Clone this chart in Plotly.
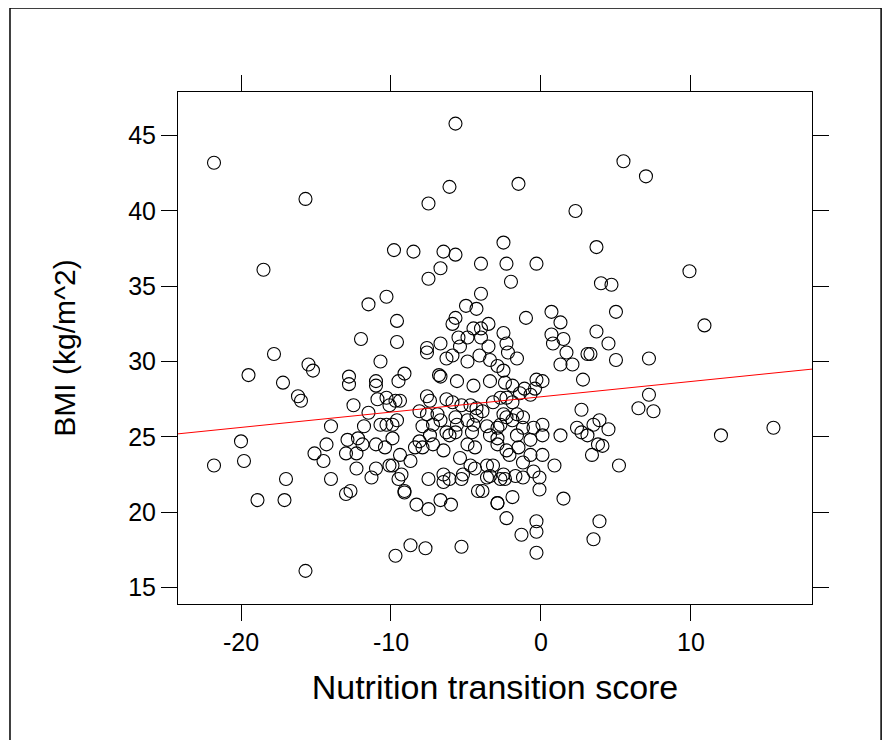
import plotly.graph_objects as go

# Nutrition transition score (x) and BMI (y)
nts = [
    -21.8, -15.7, -5.7, -6.1, -7.5, -1.5, 2.3, 5.5, 7.0, 9.9,
    10.9, -18.5, -9.8, -8.5, -6.5, -5.7, -2.5, 3.7, -6.7, -7.5,
    -4.0, -2.3, -0.3, -2.0, 4.0, 4.7, -4.0, -5.0, -4.3, -10.3,
    -11.5, -9.6, -5.7, -5.9, -1.0, 0.7, 1.3, -3.5, -4.5, -4.0,
    -2.5, -5.5, -4.9, -4.0, 0.7, 1.5, 3.7, 5.0, 4.5, -9.6,
    -6.7, -2.3, 0.8, -3.5, -5.4, -7.6, -12.0, -17.8, -19.5, -15.5,
    -15.2, -17.2, -10.7, -12.8, -12.8, -11.0, -11.0, -16.2, -16.0, -12.5,
    -10.9, -10.3, -11.5, -14.0, -11.8, -10.7, -10.3, -20.0, -14.3, -12.9,
    -12.2, -11.9, -11.0, -10.4, -15.1, -14.5, -13.0, -12.3, -19.8, -21.8,
    -12.3, -11.0, -10.1, -17.0, -14.0, -11.3, -18.9, -17.1, -13.0, -12.7,
    -15.7, -9.7, -9.5, -7.5, -6.5, -6.1, -5.3, -3.6, -2.7, -2.4,
    -1.7, -1.2, -0.1, -9.1, -9.1, -4.2, -3.9, -2.9, -2.9, -1.9,
    -0.1, 1.5, -8.3, -7.5, -6.7, -6.0, -2.3, -0.3, -0.3, -1.3,
    3.9, 3.5, -8.7, -7.7, -5.3, -0.3, 5.0, 7.2, 7.2, 6.5,
    7.5, 4.5, 3.9, 4.1, 12.0, 15.5, 5.2,
    -7.6, -6.3, -5.9, -4.9, -4.1, -3.4, -2.9, -2.5, -2.2, -1.6,
    -0.3, 1.7, 1.3, 2.1, 3.1, 3.3, 2.8, -9.1, -9.5, -6.8,
    -6.7, -5.6, -4.5, -3.4, -2.4, -1.9, -1.1, -0.4, 0.1, -1.4,
    -0.7, -7.6, -7.4, -9.7, -9.4, -10.1, -6.3, -5.9, -5.3, -4.3,
    -4.7, -3.9, -3.2, -2.7, -2.3, -1.9, -8.1, -7.6, -6.9, -6.7,
    -5.7, -4.3, -2.5, -2.3, -1.6, -1.2, -2.7, -1.9, -2.9, -3.6,
    -4.5, -4.9, -5.6, -7.2, -7.9, -9.6, -9.9, 2.7, 3.5, 2.7,
    3.1, 1.3, 0.1, -0.5, -1.2, -6.3, -5.7, -6.1, -4.6, -3.4,
    -2.9, -9.9, -7.4, -8.1, -1.6, -0.7, 0.1, 2.4, 3.8, 3.4,
    -8.4, -7.9, -7.2, -6.5, -4.9, -4.4, -2.9, -2.3, -1.5, -0.7,
    0.1, 0.9, -9.4, -9.9, -8.7, -5.4, -4.7, -4.4, -3.6, -3.2,
    -2.1, -1.2, -0.5, -9.3, -6.5, -5.2, -3.4, -2.5,
]

bmi = [
    43.2, 40.8, 45.8, 41.6, 40.5, 41.8, 40.0, 43.3, 42.3, 36.0,
    32.4, 36.1, 37.4, 37.3, 37.3, 37.1, 37.9, 37.6, 36.2, 35.5,
    36.5, 36.5, 36.5, 35.3, 35.2, 35.1, 34.5, 33.7, 33.5, 34.3,
    33.8, 32.7, 32.9, 32.5, 32.9, 33.3, 32.6, 32.5, 32.2, 32.2,
    31.9, 31.6, 31.6, 31.6, 31.8, 31.5, 32.0, 33.3, 31.2, 31.3,
    31.2, 31.2, 31.2, 31.0, 31.0, 30.9, 31.5, 30.5, 29.1, 29.8,
    29.4, 28.6, 30.0, 29.0, 28.5, 28.7, 28.4, 27.7, 27.4, 27.1,
    27.5, 27.6, 26.6, 25.7, 25.7, 25.8, 25.8, 24.7, 24.5, 24.8,
    24.9, 24.5, 24.5, 24.3, 23.9, 23.4, 23.9, 23.9, 23.4, 23.1,
    22.9, 22.9, 23.1, 22.2, 22.2, 22.3, 20.8, 20.8, 21.2, 21.4,
    16.1, 17.1, 22.2, 22.2, 22.0, 22.2, 22.2, 22.3, 22.2, 22.2,
    22.4, 22.3, 22.3, 21.3, 21.4, 21.4, 21.4, 20.6, 20.6, 21.0,
    21.5, 20.9, 20.5, 20.2, 20.8, 20.5, 19.6, 19.4, 18.7, 18.5,
    19.4, 18.2, 17.8, 17.6, 17.7, 17.3, 30.1, 30.2, 27.8, 26.9,
    26.7, 25.5, 26.1, 24.4, 25.1, 25.6, 23.1,
    30.6, 30.2, 30.4, 30.0, 30.4, 30.1, 29.7, 29.4, 30.6, 30.2,
    28.8, 30.6, 29.8, 29.8, 30.5, 30.5, 28.8, 29.2, 28.7, 29.1,
    29.0, 28.7, 28.4, 28.7, 28.6, 28.4, 28.2, 28.2, 28.7, 27.9,
    27.8, 27.7, 27.4, 27.4, 27.4, 27.1, 27.5, 27.3, 27.1, 26.9,
    27.1, 26.7, 27.3, 27.6, 27.6, 27.3, 26.7, 26.5, 26.5, 26.1,
    26.3, 26.4, 26.5, 26.3, 26.5, 26.3, 25.8, 26.1, 25.6, 25.7,
    25.8, 26.1, 25.8, 25.8, 25.7, 26.1, 25.8, 26.8, 25.8, 25.3,
    25.1, 25.1, 25.8, 25.6, 25.6, 25.3, 25.3, 25.1, 25.3, 25.1,
    24.9, 24.9, 25.1, 24.7, 25.1, 24.8, 25.1, 25.6, 24.5, 23.8,
    24.3, 24.3, 24.5, 24.1, 24.5, 24.3, 24.5, 24.1, 24.3, 23.8,
    23.8, 23.1, 23.8, 23.1, 23.4, 23.6, 23.1, 22.9, 23.1, 23.1,
    23.8, 23.3, 22.7, 22.5, 22.5, 22.5, 22.4, 22.5,
]

# Fitted regression line (intercept, slope)
fit_intercept = 27.66
fit_slope = 0.1017

x_range = [-24.2, 18.07]
y_range = [13.9, 47.9]
x_ticks = [-20, -10, 0, 10]
y_ticks = [15, 20, 25, 30, 35, 40, 45]

FONT = "Liberation Sans, Arial, sans-serif"

fig = go.Figure()
fig.add_trace(go.Scatter(
    x=nts, y=bmi, mode="markers",
    marker=dict(symbol="circle-open", size=13, color="black",
                line=dict(width=1.1, color="black")),
    showlegend=False, hoverinfo="skip",
))
line_x = list(x_range)
line_y = [fit_intercept + fit_slope * v for v in line_x]
fig.add_trace(go.Scatter(
    x=line_x, y=line_y, mode="lines",
    line=dict(color="#ff0000", width=1),
    showlegend=False, hoverinfo="skip",
))

axis_common = dict(
    showgrid=False, zeroline=False, showline=True, linecolor="black",
    linewidth=1, mirror="allticks", ticks="outside", ticklen=16,
    tickwidth=1, tickcolor="black",
    tickfont=dict(family=FONT, size=25, color="black"),
)

fig.update_xaxes(
    range=x_range, tickvals=x_ticks, ticktext=[str(v) for v in x_ticks],
    title=dict(text="Nutrition transition score",
               font=dict(family=FONT, size=34, color="black"), standoff=20),
    **axis_common,
)
fig.update_yaxes(
    range=y_range, tickvals=y_ticks, ticktext=[str(v) for v in y_ticks],
    title=dict(text="BMI (kg/m^2)",
               font=dict(family=FONT, size=30, color="black"), standoff=43),
    **axis_common,
)

# Outer frame around the whole picture (bottom edge runs off the page)
fig.add_shape(type="rect", xref="paper", yref="paper",
              x0=-0.265, x1=1.109, y0=-0.32, y1=1.164,
              line=dict(color="black", width=1.5), layer="above")

fig.update_layout(
    width=891, height=740,
    margin=dict(l=170, r=87, t=84, b=144, autoexpand=False),
    paper_bgcolor="white", plot_bgcolor="white",
    font=dict(family=FONT, color="black"),
)

fig.write_html("out.html")
